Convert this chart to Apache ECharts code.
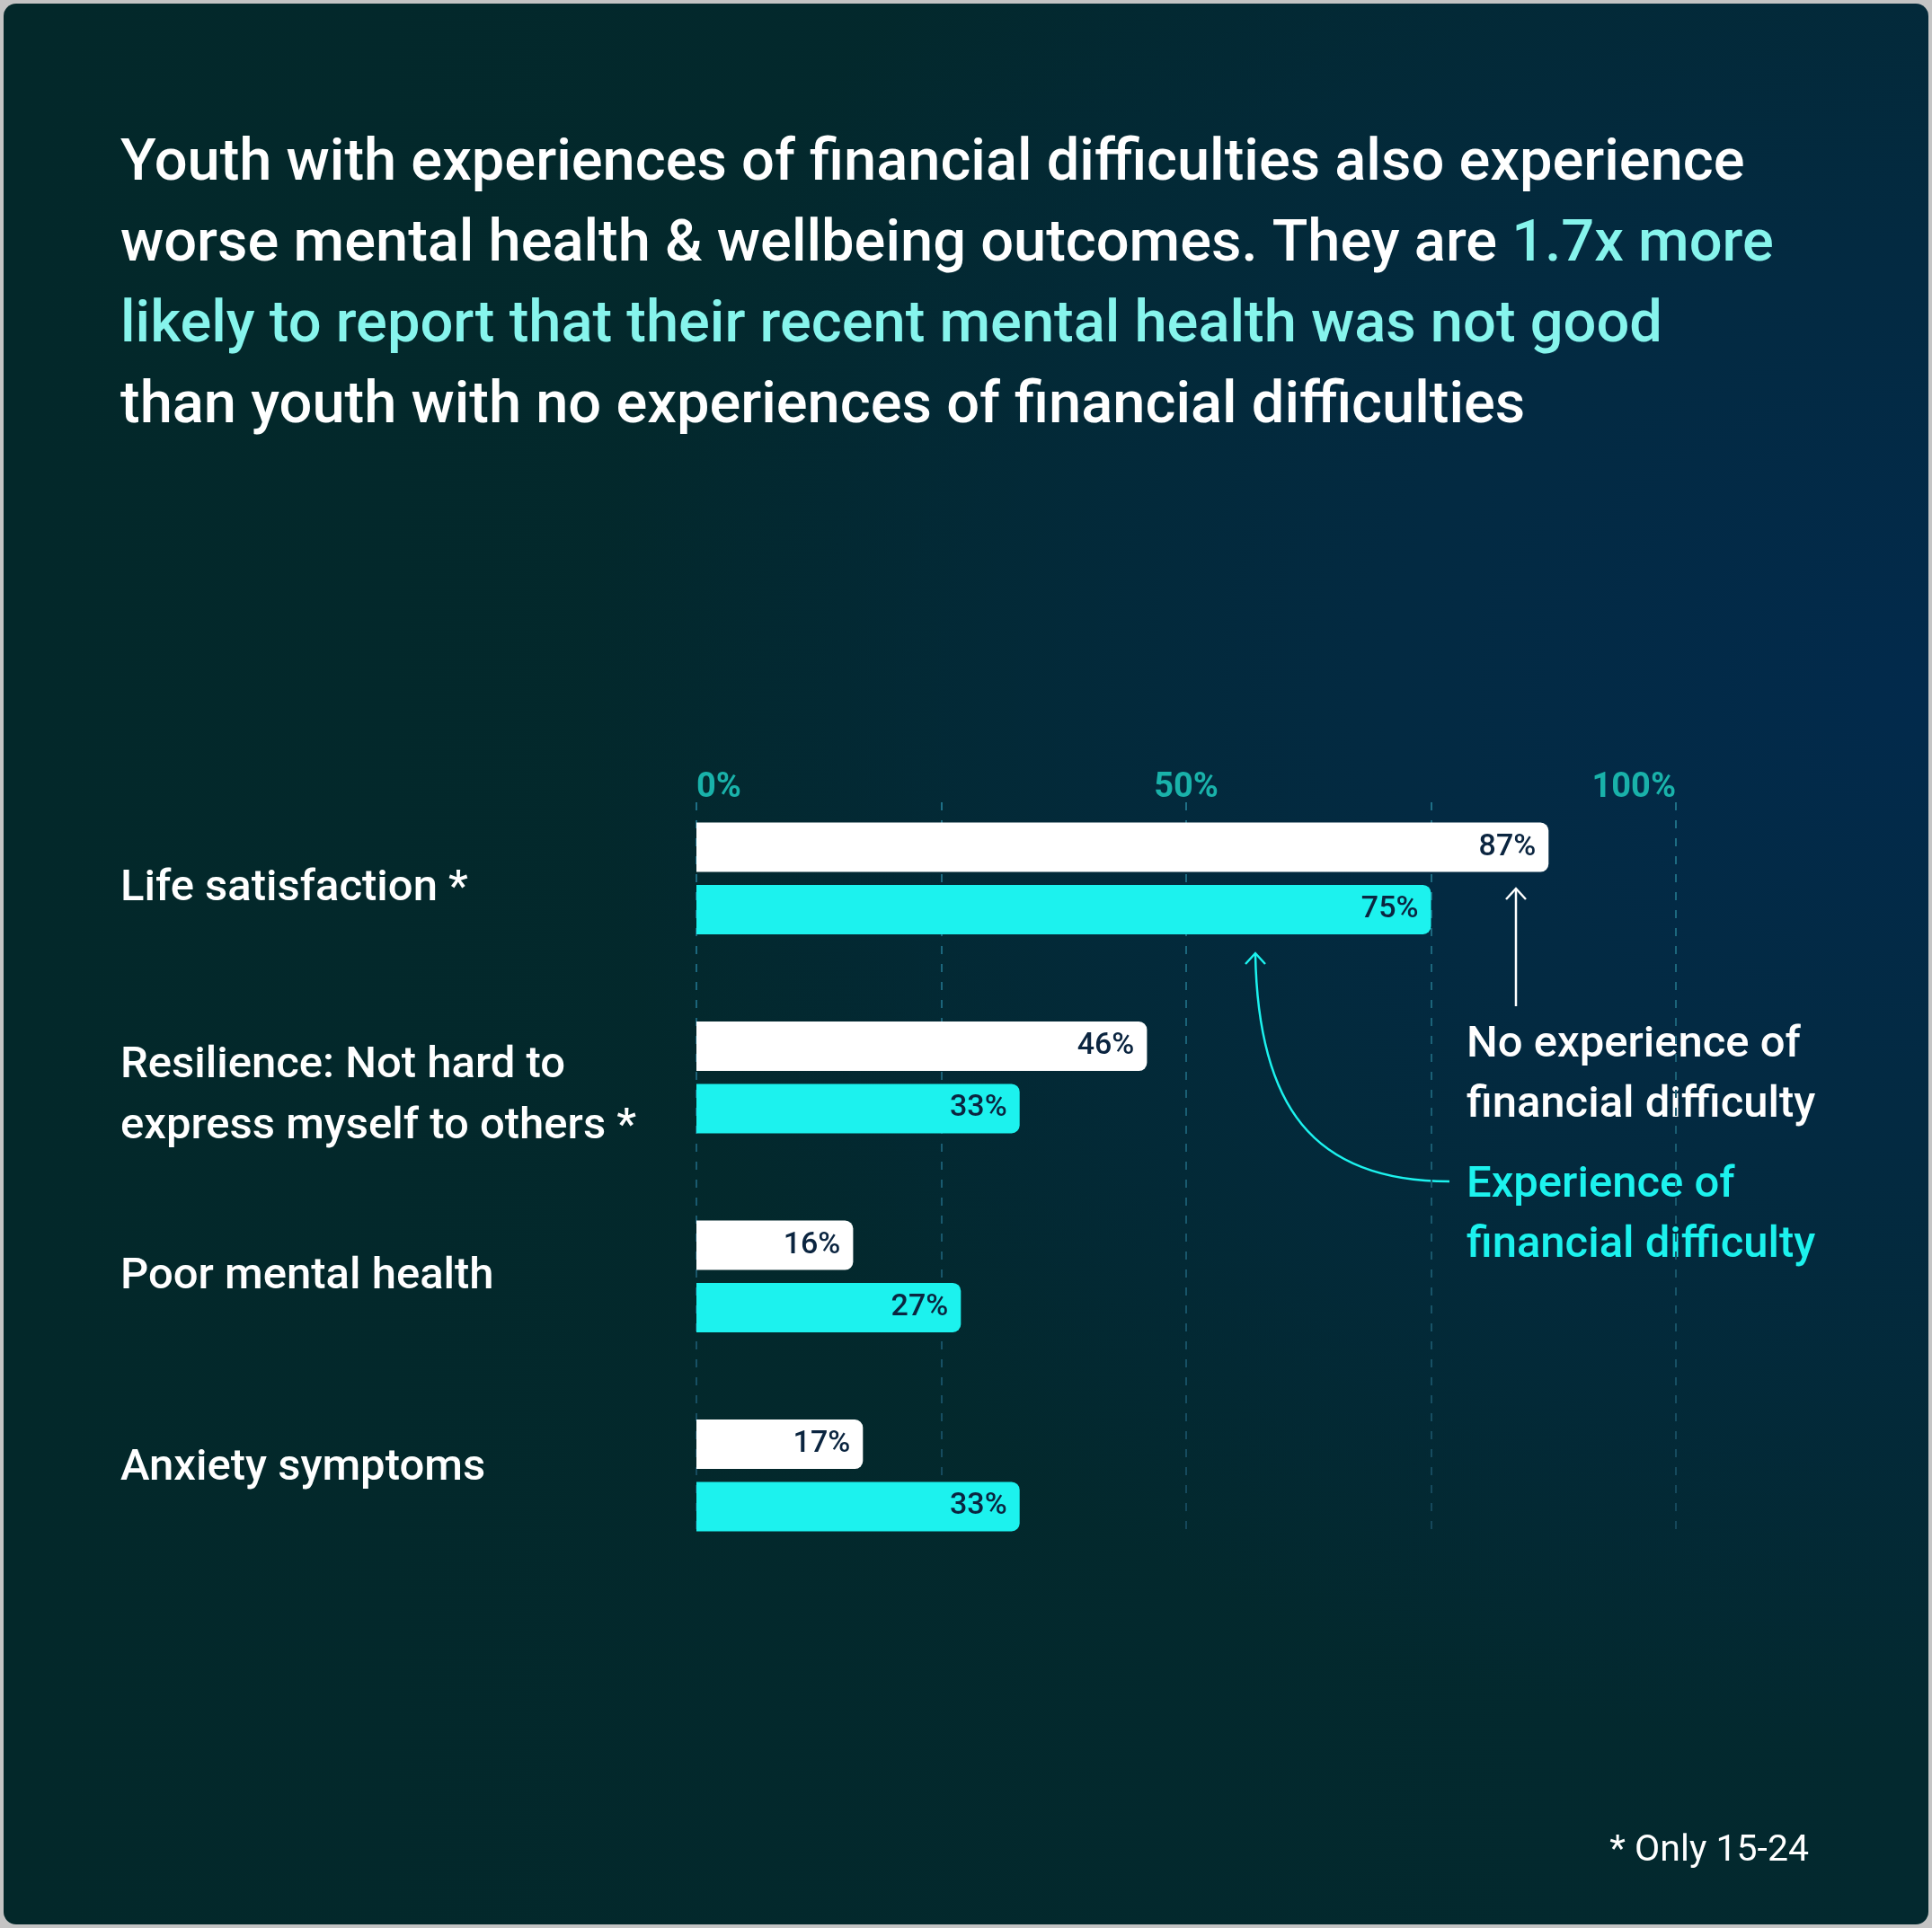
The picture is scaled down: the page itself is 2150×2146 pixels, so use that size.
<!DOCTYPE html>
<html>
<head>
<meta charset="utf-8">
<script src="https://cdn.jsdelivr.net/npm/echarts@6.0.0/dist/echarts.min.js"></script>
<style>
html, body { margin: 0; padding: 0; background: #c4c4c4; }
#frame {
    position: absolute; left: 4px; top: 4px; width: 2142px; height: 2138px;
    border-radius: 14px;
    background:
        radial-gradient(ellipse 70% 55% at 100% 36%, #022a4c 0%, #032a42 40%, rgba(3,40,44,0) 100%),
        linear-gradient(90deg, #03282a 0%, #03292f 100%);
}
#chart { position: absolute; left: 0; top: 0; width: 2150px; height: 2146px; }
</style>
</head>
<body>
<div id="frame"></div>
<div id="chart"></div>
<script>
var FONT = 'Roboto';

// data
var categories = [
    'Life satisfaction *',
    'Resilience: Not hard to\nexpress myself to others *',
    'Poor mental health',
    'Anxiety symptoms'
];
var noDifficulty = [87, 46, 16, 17];
var withDifficulty = [75, 33, 27, 33];
var seriesNames = ['No experience of financial difficulty', 'Experience of financial difficulty'];
var labelledTicks = [0, 50, 100];

// small vertical nudges of the row labels (style only, px)
var labelNudge = [12, 21, 1, -8];

var titleLines = [
    '{w|Youth with experiences of financial difficulties also experience}',
    '{w|worse mental health & wellbeing outcomes. They are }{c|1.7x more}',
    '{c|likely to report that their recent mental health was not good}',
    '{w|than youth with no experiences of financial difficulties}'
];

function barSeries(name, data, color){
    return {
        name: name,
        type: 'bar',
        xAxisIndex: 0,
        yAxisIndex: 0,
        data: data,
        barWidth: 55,
        barGap: '26%',
        itemStyle: { color: color, borderRadius: [0, 9, 9, 0] },
        label: {
            show: true,
            position: 'insideRight',
            distance: 14,
            formatter: '{c}%',
            color: '#0b2540',
            fontFamily: FONT,
            fontSize: 34,
            fontWeight: 500
        }
    };
}

function arrowHead(id, x, y, color){
    return {
        id: id,
        type: 'polyline',
        shape: { points: [[x - 11, y + 12], [x, y], [x + 11, y + 12]] },
        style: { stroke: color, lineWidth: 2.5, fill: null }
    };
}

function note(id, x, y, text, color, size){
    return {
        id: id,
        type: 'text',
        x: x, y: y,
        style: {
            text: text, fill: color, font: '500 ' + size + 'px ' + FONT,
            lineHeight: 67, textVerticalAlign: 'middle'
        }
    };
}

var chart = echarts.init(document.getElementById('chart'));

var option = {
    backgroundColor: 'transparent',
    animation: false,
    title: {
        left: 134,
        top: 139,
        padding: 0,
        text: titleLines.join('\n'),
        textStyle: {
            rich: {
                w: { color: '#ffffff', fontFamily: FONT, fontSize: 65, fontWeight: 500, lineHeight: 90 },
                c: { color: '#86f4ec', fontFamily: FONT, fontSize: 65, fontWeight: 500, lineHeight: 90 }
            }
        }
    },
    grid: [
        { left: 775, right: 285, top: 867, bottom: 393, containLabel: false, outerBoundsMode: 'none' },
        { left: 775, right: 285, top: 893, bottom: 439, containLabel: false, outerBoundsMode: 'none' }
    ],
    xAxis: [
        { gridIndex: 0, type: 'value', min: 0, max: 100, show: false },
        {
            gridIndex: 1, type: 'value', min: 0, max: 100, interval: 25, position: 'top',
            axisLine: { show: false },
            axisTick: { show: false },
            axisLabel: {
                margin: -3,
                color: '#19b2aa',
                fontFamily: FONT,
                fontSize: 38,
                fontWeight: 'bold',
                alignMinLabel: 'left',
                alignMaxLabel: 'right',
                formatter: function(v){
                    return labelledTicks.indexOf(v) >= 0 ? v + '%' : '';
                }
            },
            splitLine: {
                show: true,
                lineStyle: {
                    width: 2,
                    type: [9, 11],
                    color: {
                        type: 'linear', x: 0, y: 893, x2: 0, y2: 1707, global: true,
                        colorStops: [
                            { offset: 0, color: '#1e6f86' },
                            { offset: 1, color: '#15475a' }
                        ]
                    }
                }
            }
        }
    ],
    yAxis: [
        {
            gridIndex: 0, type: 'category', data: categories, inverse: true,
            axisLine: { show: false },
            axisTick: { show: false },
            axisLabel: { show: false }
        },
        { gridIndex: 1, type: 'value', min: 0, max: 1, show: false }
    ],
    series: [
        barSeries(seriesNames[0], noDifficulty, '#ffffff'),
        barSeries(seriesNames[1], withDifficulty, '#1cf2ee')
    ],
    graphic: [
        // white pointer
        {
            id: 'whiteLine',
            type: 'line',
            shape: { x1: 1687, y1: 989, x2: 1687, y2: 1120 },
            style: { stroke: '#ffffff', lineWidth: 2.5 }
        },
        arrowHead('whiteHead', 1687, 989, '#ffffff'),
        // cyan pointer
        {
            id: 'cyanCurve',
            type: 'bezierCurve',
            shape: { x1: 1397, y1: 1062, cpx1: 1400, cpy1: 1230, cpx2: 1460, cpy2: 1315, x2: 1613, y2: 1315 },
            style: { stroke: '#1cf2ee', lineWidth: 2.5, fill: null }
        },
        arrowHead('cyanHead', 1397, 1061, '#1cf2ee'),
        note('whiteNote', 1632, 1197, 'No experience of\nfinancial difficulty', '#ffffff', 49),
        note('cyanNote', 1632, 1353, 'Experience of\nfinancial difficulty', '#1cf2ee', 49),
        {
            id: 'footnote',
            type: 'text',
            x: 2013, y: 2061,
            style: {
                text: '* Only 15-24', fill: '#ffffff', font: '400 41px ' + FONT,
                textAlign: 'right', textVerticalAlign: 'middle'
            }
        }
    ]
};

chart.setOption(option);

// row labels, placed at the category centres of the y axis
var rowLabels = categories.map(function(name, i){
    var y = chart.convertToPixel({ yAxisIndex: 0 }, i);
    return {
        id: 'row' + i,
        type: 'text',
        x: 134,
        y: y + labelNudge[i],
        style: {
            text: name, fill: '#ffffff', font: '500 49px ' + FONT,
            lineHeight: 68, textVerticalAlign: 'middle'
        }
    };
});
chart.setOption({ graphic: rowLabels });
</script>
</body>
</html>
